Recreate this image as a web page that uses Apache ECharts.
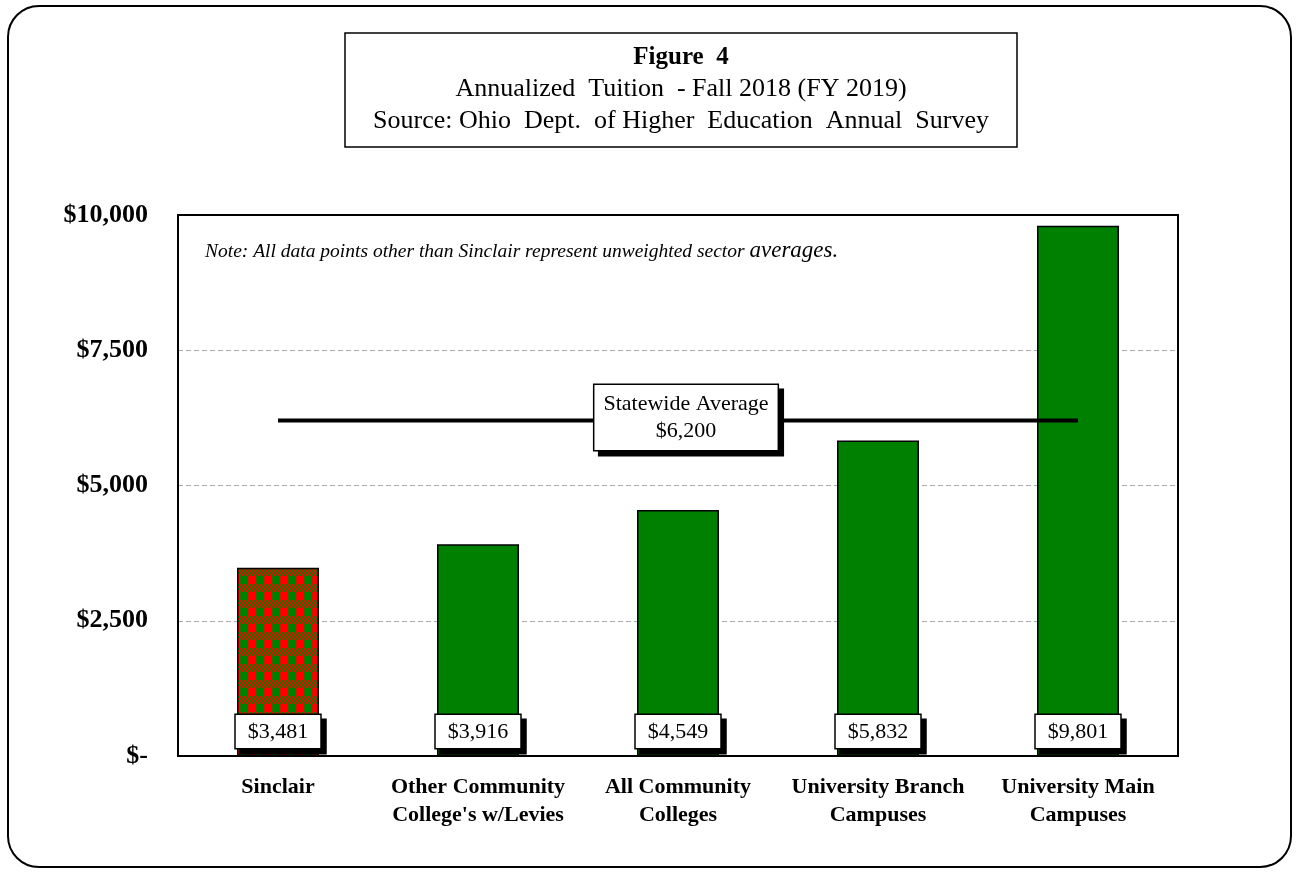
<!DOCTYPE html>
<html>
<head>
<meta charset="utf-8">
<script src="https://cdn.jsdelivr.net/npm/echarts@6/dist/echarts.min.js"></script>
<style>
html,body{margin:0;padding:0;background:#fff;}
#frame{position:absolute;left:7px;top:5px;width:1285px;height:863px;border:2px solid #000;border-radius:32px;box-sizing:border-box;}
#chart{position:absolute;left:0;top:0;width:1299px;height:878px;}
</style>
</head>
<body>
<div id="frame"></div>
<div id="chart"></div>
<script>
const categories = ["Sinclair", "Other Community\nCollege's w/Levies", "All Community\nColleges", "University Branch\nCampuses", "University Main\nCampuses"];
const tuition = [3481, 3916, 4549, 5832, 9801];
const statewideAverage = 6200;
const yTicks = [0, 2500, 5000, 7500, 10000];
const yTickLabels = ["$-", "$2,500", "$5,000", "$7,500", "$10,000"];
const titleLines = ["Figure  4", "Annualized  Tuition  - Fall 2018 (FY 2019)", "Source: Ohio  Dept.  of Higher  Education  Annual  Survey"];
const noteText = "Note: All data points other than Sinclair represent unweighted sector ";
const noteTail = "averages.";

function makePattern() {
  const c = document.createElement('canvas');
  c.width = 16; c.height = 16;
  const g = c.getContext('2d');
  const red = '#ff0000', green = '#008000';
  g.fillStyle = green; g.fillRect(0, 0, 8, 8);
  g.fillStyle = red; g.fillRect(8, 0, 8, 8);
  for (let y = 8; y < 16; y += 2) {
    for (let x = 0; x < 16; x += 2) {
      g.fillStyle = (((x + y) / 2) % 2 === 0) ? red : green;
      g.fillRect(x, y, 2, 2);
    }
  }
  return c;
}

const serif = '"Liberation Serif", "Times New Roman", serif';
const chart = echarts.init(document.getElementById('chart'), null, {renderer: 'canvas'});

const barData = tuition.map((v, i) => ({
  value: v,
  itemStyle: i === 0 ? {color: {image: makePattern(), repeat: 'repeat'}} : {color: '#008000'}
}));

function fmtMoney(v) {
  return '$' + v.toLocaleString('en-US');
}

chart.setOption({
  animation: false,
  graphic: [
    {type: 'rect', shape: {x: 345, y: 33, width: 672, height: 114}, style: {fill: '#fff', stroke: '#000', lineWidth: 1.5}},
    {type: 'text', x: 681, y: 45, style: {text: titleLines[0], font: 'bold 25px ' + serif, fill: '#000', align: 'center'}},
    {type: 'text', x: 681, y: 76, style: {text: titleLines[1], font: '26px ' + serif, fill: '#000', align: 'center'}},
    {type: 'text', x: 681, y: 108, style: {text: titleLines[2], font: '26px ' + serif, fill: '#000', align: 'center'}},
    {type: 'text', x: 205, y: 239, style: {
      text: '{a|' + noteText + '}{b|' + noteTail + '}',
      rich: {
        a: {font: 'italic 19.5px ' + serif, fill: '#000', verticalAlign: 'bottom'},
        b: {font: 'italic 23px ' + serif, fill: '#000', verticalAlign: 'bottom'}
      }
    }},
    {type: 'rect', z: 100, shape: {x: 178, y: 215, width: 1000, height: 541}, style: {fill: 'none', stroke: '#000', lineWidth: 2}}
  ],
  grid: {left: 178, top: 215, width: 1000, height: 541, show: false},
  xAxis: {
    type: 'category',
    data: categories,
    axisTick: {show: false},
    axisLine: {show: true, lineStyle: {color: '#000', width: 2}},
    axisLabel: {color: '#000', fontFamily: serif, fontWeight: 'bold', fontSize: 22, margin: 17, lineHeight: 28, interval: 0}
  },
  yAxis: {
    type: 'value',
    min: yTicks[0],
    max: yTicks[yTicks.length - 1],
    interval: 2500,
    axisLine: {show: true, lineStyle: {color: '#000', width: 2}},
    axisTick: {show: false},
    splitLine: {show: true, lineStyle: {color: '#aaa', type: [5, 3], width: 1}},
    axisLabel: {
      color: '#000', fontFamily: serif, fontWeight: 'bold', fontSize: 26, margin: 30,
      formatter: v => yTickLabels[yTicks.indexOf(v)]
    }
  },
  series: [
    {
      type: 'bar',
      data: barData,
      barWidth: 82,
      itemStyle: {borderColor: '#000', borderWidth: 1.5},
      label: {
        show: true,
        position: 'insideBottom',
        distance: 8,
        formatter: p => fmtMoney(p.value),
        color: '#000',
        fontFamily: serif,
        fontSize: 22,
        backgroundColor: '#fff',
        borderColor: '#000',
        borderWidth: 1.5,
        padding: [6, 12, 5, 12],
        shadowColor: '#000',
        shadowOffsetX: 5,
        shadowOffsetY: 5,
        shadowBlur: 0
      },
      z: 2
    },
    {
      type: 'line',
      data: tuition.map(() => statewideAverage),
      symbol: 'none',
      lineStyle: {color: '#000', width: 4},
      z: 3,
      markPoint: {
        symbol: 'rect',
        symbolSize: 0,
        data: [{coord: [2, statewideAverage]}],
        label: {
          show: true,
          position: 'inside',
          offset: [8, -3],
          formatter: 'Statewide Average\n' + fmtMoney(statewideAverage),
          color: '#000',
          fontFamily: serif,
          fontSize: 22,
          lineHeight: 27,
          align: 'center',
          backgroundColor: '#fff',
          borderColor: '#000',
          borderWidth: 1.5,
          padding: [6, 9, 5, 9],
          shadowColor: '#000',
          shadowOffsetX: 5,
          shadowOffsetY: 5,
          shadowBlur: 0
        }
      }
    }
  ]
});
</script>
</body>
</html>
